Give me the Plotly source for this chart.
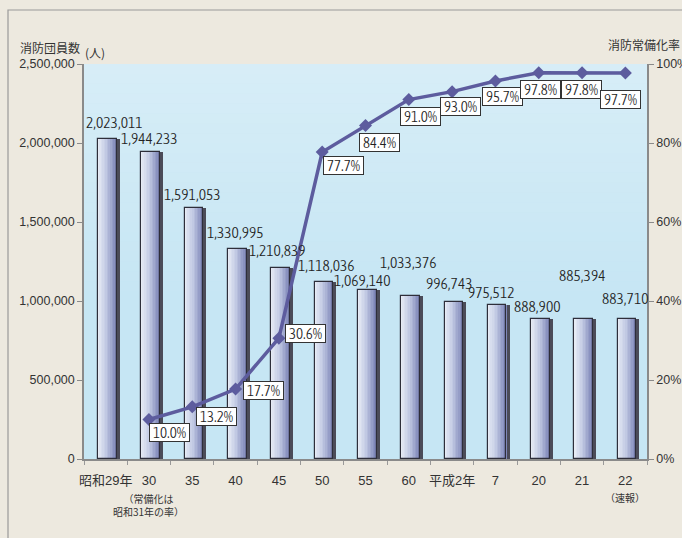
import plotly.graph_objects as go

# ---- data ----
categories = ["昭和29年", "30", "35", "40", "45", "50", "55", "60", "平成2年", "7", "20", "21", "22"]
members = [2023011, 1944233, 1591053, 1330995, 1210839, 1118036, 1069140,
           1033376, 996743, 975512, 888900, 885394, 883710]
rates = [None, 10.0, 13.2, 17.7, 30.6, 77.7, 84.4, 91.0, 93.0, 95.7, 97.8, 97.8, 97.7]
left_ticks = [0, 500000, 1000000, 1500000, 2000000, 2500000]
right_ticks = [0, 20, 40, 60, 80, 100]

# label offsets (pixels) – styling only
bar_label_shift = [(9, 17), (1, 13), (0, 13), (0, 16), (-1, 17), (4, 17), (-3, 10),
                   (0, 33), (-3, 18), (-4, 12), (-2, 12), (0, 44), (0, 21)]
rate_label_shift = [None, (21, -13), (24, -10), (28, -1), (27, 5), (21, -13), (14, -17),
                    (12, -17), (8, -15), (7, -16), (2, -17), (-1, -17), (-5, -26)]

W, H = 682, 538
ML, MR, MT, MB = 84, 35, 64, 79
PW, PH = W - ML - MR, H - MT - MB

xs = list(range(len(categories)))
NUM_FONT = "Asap Condensed, Archivo Narrow, Liberation Sans, sans-serif"
TICK_FONT = "Liberation Sans, Arial, Noto Sans CJK JP, sans-serif"
CJK_FONT = "Noto Sans CJK JP, sans-serif"

fig = go.Figure()

bar_w = 0.43
bar_off = -bar_w / 2 + 0.04

fig.add_trace(go.Bar(x=xs, y=members, width=[bar_w] * len(xs),
                     offset=[bar_off + 0.07] * len(xs),
                     marker=dict(color="#4b4b58", line=dict(width=0)),
                     hoverinfo="skip", showlegend=False))


def lerp(c1, c2, t):
    return "#%02x%02x%02x" % tuple(round(a + (b - a) * t) for a, b in zip(c1, c2))


stops = [(0.0, (234, 238, 246)), (0.45, (194, 202, 228)), (1.0, (122, 130, 182))]
N = 12
sw = bar_w / N
for i in range(N):
    t = (i + 0.5) / N
    for j in range(len(stops) - 1):
        if stops[j][0] <= t <= stops[j + 1][0]:
            tt = (t - stops[j][0]) / (stops[j + 1][0] - stops[j][0])
            col = lerp(stops[j][1], stops[j + 1][1], tt)
    fig.add_trace(go.Bar(x=xs, y=members, width=[sw * 1.02] * len(xs),
                         offset=[bar_off + i * sw] * len(xs),
                         marker=dict(color=col, line=dict(width=0)),
                         hoverinfo="skip", showlegend=False))

fig.add_trace(go.Bar(x=xs, y=members, width=[bar_w] * len(xs),
                     offset=[bar_off] * len(xs),
                     marker=dict(color="rgba(0,0,0,0)", line=dict(color="#2e2e3a", width=1.2)),
                     hoverinfo="skip", showlegend=False))

fig.add_trace(go.Scatter(x=xs, y=rates, yaxis="y2", mode="lines+markers",
                         line=dict(color="#5d5c9e", width=3.5),
                         marker=dict(symbol="diamond", size=10, color="#5d5c9e"),
                         hoverinfo="skip", showlegend=False))

annotations = []
for i, v in enumerate(members):
    dx, dy = bar_label_shift[i]
    annotations.append(dict(x=i, y=v, xref="x", yref="y", text=f"{v:,}",
                            showarrow=False, xshift=dx, yshift=dy,
                            xanchor="center", yanchor="middle",
                            font=dict(family=NUM_FONT, size=15.5, color="#222", weight=300)))
for i, r in enumerate(rates):
    if r is None:
        continue
    dx, dy = rate_label_shift[i]
    annotations.append(dict(x=i, y=r, xref="x", yref="y2", text=f"\u2009{r:.1f}%\u2009",
                            showarrow=False, xshift=dx, yshift=dy,
                            xanchor="center", yanchor="middle",
                            bgcolor="white", bordercolor="#333", borderwidth=1, borderpad=0,
                            font=dict(family=NUM_FONT, size=15, color="#222", weight=300)))


def px(xp):
    return (xp - ML) / PW


def py(yp):
    return (H - MB - yp) / PH


def paper_text(x, y, text, size, xanchor="center"):
    return dict(x=px(x), y=py(y), xref="paper", yref="paper", text=text, showarrow=False,
                xanchor=xanchor, yanchor="middle",
                font=dict(family=CJK_FONT, size=size, color="#333"))


annotations += [
    paper_text(50, 47, "消防団員数", 12),
    paper_text(95, 52, "(人)", 12),
    paper_text(644, 45, "消防常備化率", 12),
    dict(x=1, y=py(505), xref="x", yref="paper", text="（常備化は<br>昭和31年の率）",
         showarrow=False, xanchor="center", yanchor="middle",
         font=dict(family=CJK_FONT, size=10, color="#333")),
    dict(x=12, y=py(497), xref="x", yref="paper", text="（速報）",
         showarrow=False, xanchor="center", yanchor="middle",
         font=dict(family=CJK_FONT, size=10, color="#333")),
]

shapes = [dict(type="rect", xref="paper", yref="paper",
               x0=px(8), y0=py(560), x1=px(700), y1=py(10),
               line=dict(color="#9a9a9a", width=1.2), fillcolor="rgba(0,0,0,0)", layer="below")]

# subtle vertical light gradient in the plot background (styling)
NB = 24
for k in range(NB):
    y0 = 1 - (k + 1) * 0.6 / NB
    y1 = 1 - k * 0.6 / NB
    a = 0.30 * (1 - k / NB)
    shapes.append(dict(type="rect", xref="paper", yref="paper", x0=0, x1=1, y0=y0, y1=y1,
                       line=dict(width=0), fillcolor=f"rgba(255,255,255,{a:.3f})", layer="below"))

axis_col = "#8a8a8a"
fig.update_layout(
    width=W, height=H,
    margin=dict(l=ML, r=MR, t=MT, b=MB, autoexpand=False),
    paper_bgcolor="#ede9df", plot_bgcolor="#c6e6f4",
    barmode="overlay", bargap=0,
    showlegend=False,
    xaxis=dict(range=[-0.5, len(xs) - 0.5], tickmode="array", tickvals=xs, ticktext=categories,
               ticks="", showgrid=False, zeroline=False, showline=True, automargin=False,
               linecolor=axis_col, linewidth=1.5, ticklabelstandoff=9,
               tickfont=dict(family=TICK_FONT, size=13, color="#333"),
               minor=dict(tickmode="linear", tick0=-0.5, dtick=1, ticks="outside",
                          ticklen=4, tickcolor="#999", tickwidth=1, showgrid=False)),
    yaxis=dict(range=[0, 2500000], tickmode="array", tickvals=left_ticks,
               ticktext=[f"{t:,}" for t in left_ticks], automargin=False,
               ticks="outside", ticklen=5, tickcolor=axis_col, tickwidth=1.2,
               showgrid=False, zeroline=False, showline=True, linecolor=axis_col, linewidth=1.5,
               tickfont=dict(family=TICK_FONT, size=12.5, color="#333")),
    yaxis2=dict(range=[0, 100], overlaying="y", side="right", tickmode="array",
                tickvals=right_ticks, ticktext=[f"{t}%" for t in right_ticks], automargin=False,
                ticks="outside", ticklen=5, tickcolor=axis_col, tickwidth=1.2,
                showgrid=False, zeroline=False, showline=True, linecolor=axis_col, linewidth=1.5,
                tickfont=dict(family=TICK_FONT, size=12.5, color="#333")),
    annotations=annotations,
    shapes=shapes,
)

fig.write_html("out.html")
